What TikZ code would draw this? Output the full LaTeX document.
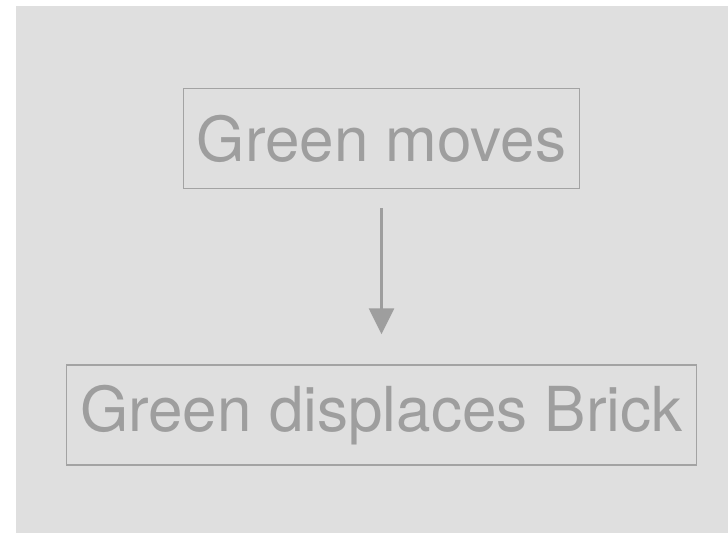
\documentclass[tikz,border=0pt]{standalone}
\usepackage{fontspec}
\setmainfont{TeX Gyre Heros}
\usetikzlibrary{positioning}
\usetikzlibrary{arrows.meta}

\definecolor{panel}{HTML}{DFDFDF}
\definecolor{edge}{HTML}{A3A3A3}
\definecolor{ink}{HTML}{9E9E9E}

\tikzset{
  event/.style={draw=edge,line width=1.6pt,text=ink,inner xsep=13.5pt,
    minimum height=100pt,font=\fontsize{62}{70}\selectfont},
  causes/.style={draw=ink,line width=2.6pt,-{Triangle[length=26pt,width=25pt]}}
}

\begin{document}
\begin{tikzpicture}[x=1pt,y=1pt,node distance=175pt]
\useasboundingbox (0,0) rectangle (728,533);
\fill[panel] (16,0) rectangle (728,527);
\node[event](moves) at (381.5,394.5) {Green moves};
\node[event,below = of moves](displaces) {Green displaces Brick};
\draw[causes,shorten <=19pt,shorten >=30pt] (moves) -- (displaces);
\end{tikzpicture}
\end{document}
